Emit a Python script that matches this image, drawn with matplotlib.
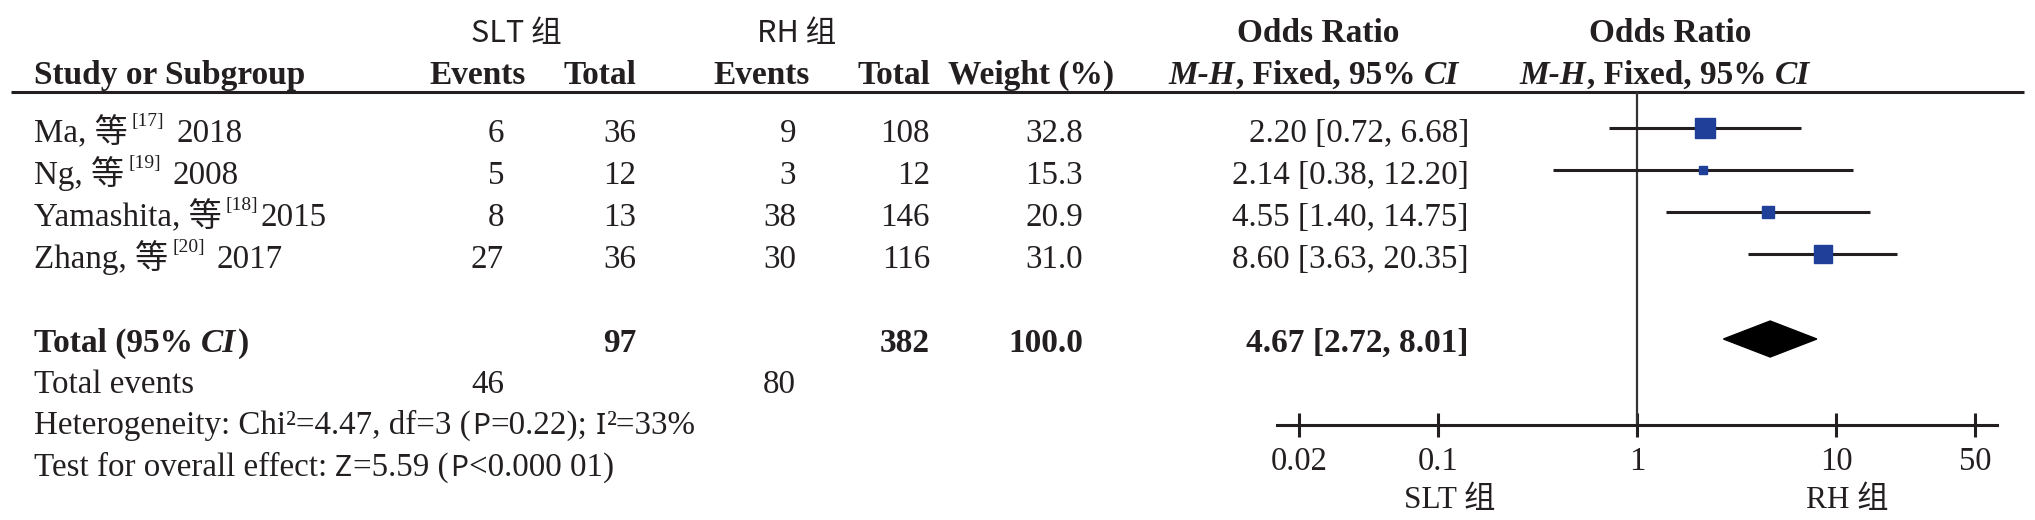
import matplotlib.pyplot as plt
from matplotlib.patches import Polygon
from matplotlib.ticker import NullLocator

# ---- data ----
studies = ['Ma, 等', 'Ng, 等', 'Yamashita, 等', 'Zhang, 等']
refs = ['[17]', '[19]', '[18]', '[20]']
years = ['2018', '2008', '2015', '2017']
slt_events = [6, 5, 8, 27]
slt_total = [36, 12, 13, 36]
rh_events = [9, 3, 38, 30]
rh_total = [108, 12, 146, 116]
weight = [32.8, 15.3, 20.9, 31.0]
odds = [2.20, 2.14, 4.55, 8.60]
ci_lo = [0.72, 0.38, 1.40, 3.63]
ci_hi = [6.68, 12.20, 14.75, 20.35]

sum_slt = 97
sum_rh = 382
sum_weight = 100.0
pooled_or = 4.67
pooled_lo = 2.72
pooled_hi = 8.01
events_slt = 46
events_rh = 80

xticks = [0.02, 0.1, 1, 10, 50]
xtick_labels = ['0.02', '0.1', '1', '10', '50']

# ---- layout (pixels) ----
W, H = 2035, 520
ink = '#231f20'
blue = '#1f3f98'
row_y = [128, 170, 212, 254]
year_gap = [12, 12, 2, 12]
total_y = 339

serif = ['Liberation Serif', 'Noto Sans CJK SC']
R = dict(family=serif, size=23.8)
B = dict(family=serif, size=24, weight='bold')
BI = dict(family=serif, size=24, weight='bold', style='italic')
SANS = dict(family=['Noto Sans'], size=21.5)
SUP = dict(family=serif, size=14)
HEAD = dict(family=['Noto Sans CJK SC'], size=22)

fig = plt.figure(figsize=(W / 100, H / 100), dpi=100)
ax = fig.add_axes([0, 0, 1, 1])
ax.set_xlim(0, W)
ax.set_ylim(H, 0)
ax.axis('off')


def chain(x, y, parts):
    # draw text pieces one after another on a common baseline
    prev = None
    for s, st, gap, rise in parts:
        if prev is None:
            prev = ax.text(x, y, s, ha='left', va='baseline', color=ink, **st)
        else:
            prev = ax.annotate(s, xy=(1, y), xycoords=(prev, ax.transData),
                               xytext=(gap * 0.72, rise * 0.72),
                               textcoords='offset points',
                               ha='left', va='baseline', color=ink, **st)
    return prev


def num(x, y, s, st=R):
    ax.text(x, y, s, ha='right', va='baseline', color=ink, **st)


# headers
ax.text(516, 42, 'SLT 组', ha='center', va='baseline', color=ink, **HEAD)
ax.text(797, 42, 'RH 组', ha='center', va='baseline', color=ink, **HEAD)
ax.text(1318, 42, 'Odds Ratio', ha='center', va='baseline', color=ink, **B)
ax.text(1670, 42, 'Odds Ratio', ha='center', va='baseline', color=ink, **B)

ax.text(34, 84, 'Study or Subgroup', ha='left', va='baseline', color=ink, **B)
ax.text(429, 84, 'Events', ha='left', va='baseline', color=ink, **B)
num(636, 84, 'Total', B)
ax.text(713, 84, 'Events', ha='left', va='baseline', color=ink, **B)
num(930, 84, 'Total', B)
ax.text(948, 84, 'Weight (%)', ha='left', va='baseline', color=ink, **B)
for x0 in [1168, 1519]:
    chain(x0, 84, [('M-H', BI, 0, 0), (', Fixed, 95%', B, 1, 0), ('CI', BI, 8, 0)])

ax.plot([11, 2024], [92, 92], color=ink, lw=2.2, solid_capstyle='butt')

# study rows
for i in range(len(studies)):
    yb = row_y[i] + 14
    chain(34, yb, [(studies[i], R, 0, 0), (refs[i], SUP, 4, 16),
                   (years[i], R, year_gap[i], 0)])
    num(504, yb, str(slt_events[i]))
    num(636, yb, str(slt_total[i]))
    num(796, yb, str(rh_events[i]))
    num(930, yb, str(rh_total[i]))
    num(1083, yb, f'{weight[i]:.1f}')
    num(1469, yb, f'{odds[i]:.2f} [{ci_lo[i]:.2f}, {ci_hi[i]:.2f}]')

# pooled row
yb = total_y + 13
chain(34, yb, [('Total (95%', B, 0, 0), ('CI', BI, 8, 0), (')', B, 2, 0)])
num(636, yb, str(sum_slt), B)
num(930, yb, str(sum_rh), B)
num(1083, yb, f'{sum_weight:.1f}', B)
num(1469, yb, f'{pooled_or:.2f} [{pooled_lo:.2f}, {pooled_hi:.2f}]', B)

ax.text(34, 393, 'Total events', ha='left', va='baseline', color=ink, **R)
num(504, 393, str(events_slt))
num(796, 393, str(events_rh))

chain(34, 434, [('Heterogeneity: Chi²=4.47, df=3 (', R, 0, 0), ('P', SANS, 1, 0),
                ('=0.22);', R, 1, 0), ('I', SANS, 8, 0), ('²=33%', R, 1, 0)])
chain(34, 476, [('Test for overall effect:', R, 0, 0), ('Z', SANS, 8, 0),
                ('=5.59 (', R, 1, 0), ('P', SANS, 1, 0), ('<0.000 01)', R, 1, 0)])

# ---- forest panel ----
x_one, ppd = 1637, 199.0
left_px, right_px = 1277, 1997
fa = fig.add_axes([left_px / W, 0, (right_px - left_px) / W, 1])
fa.set_xscale('log')
fa.set_xlim(10 ** ((left_px - x_one) / ppd), 10 ** ((right_px - x_one) / ppd))
fa.set_ylim(H, 0)
fa.patch.set_alpha(0)
for s in ['top', 'left', 'right']:
    fa.spines[s].set_visible(False)
fa.spines['bottom'].set_position(('data', 425))
fa.spines['bottom'].set_linewidth(2.2)
fa.spines['bottom'].set_color(ink)
fa.set_yticks([])
fa.set_xticks(xticks, xtick_labels)
fa.xaxis.set_minor_locator(NullLocator())
fa.tick_params(axis='x', direction='inout', length=17, width=2.2, pad=7,
               labelsize=23.5, colors=ink, labelfontfamily='Liberation Serif')

fa.vlines(1, 92, 425, color='#333333', lw=1.6)
fa.hlines(row_y, ci_lo, ci_hi, color=ink, lw=2.2)
for i in range(len(odds)):
    fa.plot(odds[i], row_y[i], 's', ms=weight[i] * 0.42, color=blue, mec=blue, zorder=3)

fa.add_patch(Polygon([(pooled_lo, total_y), (pooled_or, total_y - 18),
                      (pooled_hi, total_y), (pooled_or, total_y + 18)],
                     closed=True, fc='black', ec='black', lw=1))

ax.text(1450, 508, 'SLT 组', ha='center', va='baseline', color=ink, family=serif, size=22.5)
ax.text(1847, 508, 'RH 组', ha='center', va='baseline', color=ink, family=serif, size=22.5)

fig.savefig('out.png', dpi=100)
